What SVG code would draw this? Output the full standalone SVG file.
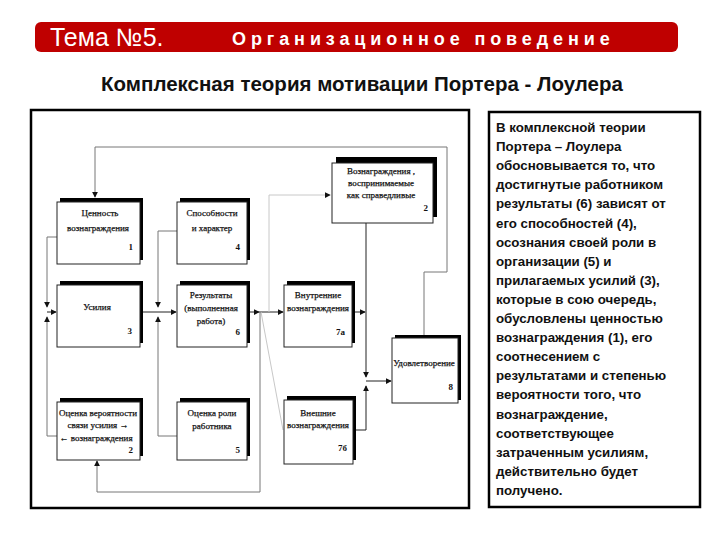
<svg xmlns="http://www.w3.org/2000/svg" width="720" height="540" viewBox="0 0 720 540">
<defs>
<marker id="arr" viewBox="0 0 8 8" refX="7" refY="4" markerWidth="6" markerHeight="6" orient="auto" markerUnits="userSpaceOnUse">
<path d="M0,0 L8,4 L0,8 Z" fill="#111"/>
</marker>
</defs>
<style>
.shadow{fill:#000}
.box{fill:#fff;stroke:#222;stroke-width:1}
.lbl{font-family:"Liberation Serif","Times New Roman",serif;font-size:9px;fill:#111;stroke:#111;stroke-width:0.25;text-anchor:middle}
.num{font-family:"Liberation Serif","Times New Roman",serif;font-size:9px;fill:#111;text-anchor:end;font-weight:bold}
.ln{fill:none;stroke:#222;stroke-width:1}
.gr{fill:none;stroke:#777;stroke-width:1}
.fa{fill:none;stroke:#c8c8c8;stroke-width:1}
.body{font-family:"Liberation Sans",Arial,sans-serif;font-size:13.3px;font-weight:bold;fill:#111}
</style>
<rect width="720" height="540" fill="#fff"/>
<g id="header">
<rect x="35" y="22" width="643" height="30" rx="6" fill="#bf0000"/>
<text x="50" y="46" font-family="Liberation Sans,Arial,sans-serif" font-size="25" fill="#fff">Тема №5.</text>
<text x="232" y="45" font-family="Liberation Sans,Arial,sans-serif" font-size="18" font-weight="bold" letter-spacing="4.9" fill="#fff">Организационное поведение</text>
</g>
<text id="title" x="362" y="91" text-anchor="middle" font-family="Liberation Sans,Arial,sans-serif" font-size="20.5" font-weight="bold" fill="#111">Комплексная теория мотивации Портера - Лоулера</text>
<rect id="frame" x="31" y="110" width="438" height="398" fill="none" stroke="#000" stroke-width="2.5"/>
<g id="connectors">
<polyline class="gr" points="424,335 424,272 447,272 447,147 95,147 95,197" marker-end="url(#arr)"/>
<polyline class="ln" points="366,223 366,377" marker-end="url(#arr)"/>
<polyline class="ln" points="352,312 365,312" marker-end="url(#arr)"/>
<polyline class="ln" points="353,430 366,430 366,386" marker-end="url(#arr)"/>
<polyline class="ln" points="366,381 391,381" marker-end="url(#arr)"/>
<polyline class="ln" points="140,312 176,312" marker-end="url(#arr)"/>
<polyline class="gr" points="177,231 158,231 158,307" marker-end="url(#arr)"/>
<polyline class="gr" points="177,436 158,436 158,317" marker-end="url(#arr)"/>
<polyline class="gr" points="57,237 47,237 47,307" marker-end="url(#arr)"/>
<polyline class="gr" points="57,436 47,436 47,317" marker-end="url(#arr)"/>
<polyline class="ln" points="47,312 56,312" marker-end="url(#arr)"/>
<polyline class="ln" points="248,312 259,312" marker-end="url(#arr)"/>
<polyline class="ln" points="259,312 283,312" marker-end="url(#arr)"/>
<polyline class="fa" points="269,312 269,195 330,195" marker-end="url(#arr)"/>
<polyline class="fa" points="261,312 283,430"/>
<polyline class="gr" points="260,312 260,492 97,492 97,461" marker-end="url(#arr)"/>
</g>
<g id="n1">
<rect class="shadow" x="60" y="198" width="83" height="62"/>
<rect class="box" x="57" y="202" width="83" height="62"/>
<text class="lbl" x="100" y="216">Ценность</text>
<text class="lbl" x="98" y="231">вознаграждения</text>
<text class="num" x="133" y="250">1</text>
</g>
<g id="n4">
<rect class="shadow" x="180" y="198" width="70" height="62"/>
<rect class="box" x="177" y="202" width="70" height="62"/>
<text class="lbl" x="212" y="216">Способности</text>
<text class="lbl" x="212" y="231">и характер</text>
<text class="num" x="240" y="250">4</text>
</g>
<g id="n2top">
<rect class="shadow" x="336" y="157" width="101" height="60"/>
<rect class="box" x="332" y="163" width="101" height="60"/>
<text class="lbl" x="381" y="174">Вознаграждения ,</text>
<text class="lbl" x="381" y="186">воспринимаемые</text>
<text class="lbl" x="381" y="198">как справедливые</text>
<text class="num" x="428" y="211">2</text>
</g>
<g id="n3">
<rect class="shadow" x="60" y="281" width="83" height="62"/>
<rect class="box" x="57" y="285" width="83" height="62"/>
<text class="lbl" x="97" y="310">Усилия</text>
<text class="num" x="132" y="334">3</text>
</g>
<g id="n6">
<rect class="shadow" x="180" y="281" width="70" height="62"/>
<rect class="box" x="177" y="285" width="70" height="62"/>
<text class="lbl" x="211" y="298">Результаты</text>
<text class="lbl" x="211" y="311">(выполненная</text>
<text class="lbl" x="211" y="324">работа)</text>
<text class="num" x="240" y="335">6</text>
</g>
<g id="n7a">
<rect class="shadow" x="287" y="281" width="68" height="62"/>
<rect class="box" x="284" y="285" width="68" height="62"/>
<text class="lbl" x="318" y="298">Внутренние</text>
<text class="lbl" x="318" y="311">вознаграждения</text>
<text class="num" x="345" y="335">7а</text>
</g>
<g id="n8">
<rect class="shadow" x="395" y="335" width="66" height="65"/>
<rect class="box" x="392" y="338" width="66" height="65"/>
<text class="lbl" x="424" y="366">Удовлетворение</text>
<text class="num" x="453" y="390">8</text>
</g>
<g id="n2">
<rect class="shadow" x="60" y="398" width="83" height="58"/>
<rect class="box" x="57" y="402" width="83" height="58"/>
<text class="lbl" x="98" y="416">Оценка вероятности</text>
<text class="lbl" x="98" y="428">связи усилия →</text>
<text class="lbl" x="96" y="441">← вознаграждения</text>
<text class="num" x="133" y="453">2</text>
</g>
<g id="n5">
<rect class="shadow" x="180" y="398" width="70" height="58"/>
<rect class="box" x="177" y="402" width="70" height="58"/>
<text class="lbl" x="212" y="416">Оценка роли</text>
<text class="lbl" x="212" y="429">работника</text>
<text class="num" x="240" y="453">5</text>
</g>
<g id="n7b">
<rect class="shadow" x="287" y="396" width="69" height="64"/>
<rect class="box" x="284" y="400" width="69" height="64"/>
<text class="lbl" x="318" y="416">Внешние</text>
<text class="lbl" x="318" y="428">вознаграждения</text>
<text class="num" x="347" y="451">7б</text>
</g>
<g id="explanation">
<rect x="489" y="112" width="211" height="395" fill="#fff" stroke="#000" stroke-width="2.5"/>
<text class="body" x="496" y="132">
<tspan x="496" dy="0">В комплексной теории</tspan>
<tspan x="496" dy="19.1">Портера – Лоулера</tspan>
<tspan x="496" dy="19.1">обосновывается то,  что</tspan>
<tspan x="496" dy="19.1">достигнутые работником</tspan>
<tspan x="496" dy="19.1">результаты (6) зависят от</tspan>
<tspan x="496" dy="19.1">его способностей (4),</tspan>
<tspan x="496" dy="19.1">осознания своей роли в</tspan>
<tspan x="496" dy="19.1">организации (5) и</tspan>
<tspan x="496" dy="19.1">прилагаемых усилий (3),</tspan>
<tspan x="496" dy="19.1">которые в сою очередь,</tspan>
<tspan x="496" dy="19.1">обусловлены ценностью</tspan>
<tspan x="496" dy="19.1">вознаграждения (1), его</tspan>
<tspan x="496" dy="19.1">соотнесением с</tspan>
<tspan x="496" dy="19.1">результатами и степенью</tspan>
<tspan x="496" dy="19.1">вероятности того, что</tspan>
<tspan x="496" dy="19.1">вознаграждение,</tspan>
<tspan x="496" dy="19.1">соответствующее</tspan>
<tspan x="496" dy="19.1">затраченным усилиям,</tspan>
<tspan x="496" dy="19.1">действительно будет</tspan>
<tspan x="496" dy="19.1">получено.</tspan>
</text>
</g>
</svg>
